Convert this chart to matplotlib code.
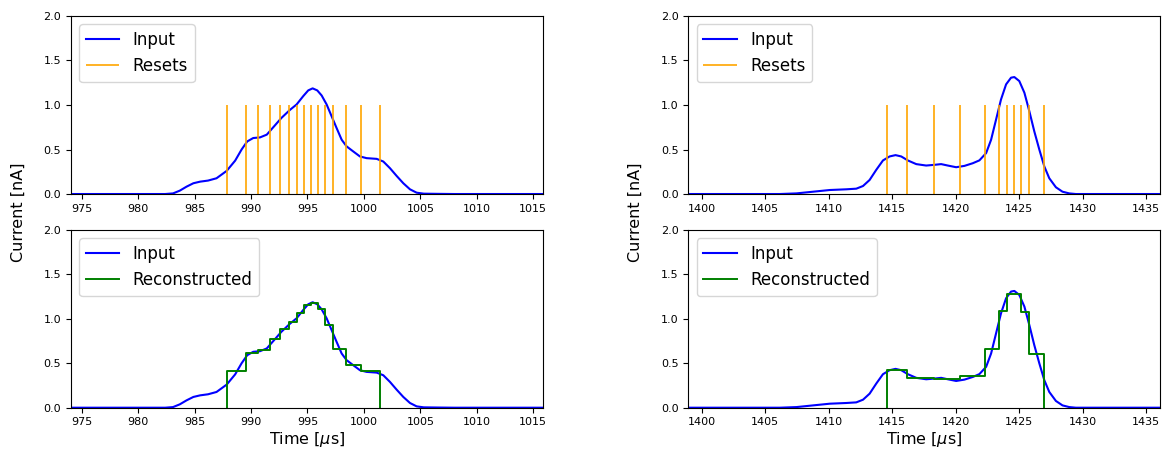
import numpy as np
import matplotlib
matplotlib.use("Agg")
import matplotlib.pyplot as plt

# -----------------------------
# Left event
# -----------------------------
left_t = [974.0, 982.4, 983.1, 983.7, 984.3, 984.9, 985.5, 986.2, 986.95, 987.85,
          988.6, 989.17, 989.67, 990.2, 990.8, 991.4, 992.1, 992.7, 993.45, 994.04,
          994.63, 995.07, 995.46, 995.87, 996.26, 996.7, 997.14, 997.58, 998.03,
          998.47, 999.06, 999.65, 1000.24, 1001.13, 1001.72, 1002.31, 1002.9,
          1003.49, 1004.08, 1004.67, 1005.3, 1006.5, 1008.0, 1016.0]
left_i = [0.0, 0.0, 0.007, 0.038, 0.083, 0.121, 0.139, 0.151, 0.177, 0.26,
          0.375, 0.5, 0.591, 0.629, 0.636, 0.667, 0.768, 0.855, 0.945, 1.006,
          1.1, 1.164, 1.187, 1.164, 1.107, 1.006, 0.874, 0.742, 0.61,
          0.535, 0.478, 0.422, 0.403, 0.395, 0.365, 0.29, 0.203,
          0.121, 0.053, 0.015, 0.004, 0.002, 0.0, 0.0]
left_resets = [987.84, 989.52, 990.62, 991.65, 992.56, 993.33, 994.07, 994.72,
               995.34, 995.93, 996.52, 997.26, 998.41, 999.74, 1001.39]
left_levels = [0.417, 0.619, 0.649, 0.769, 0.889, 0.968, 1.062, 1.152,
               1.182, 1.107, 0.934, 0.664, 0.48, 0.413]

# -----------------------------
# Right event
# -----------------------------
right_t = [1398.9, 1406.15, 1407.46, 1408.77, 1410.08, 1411.39, 1412.17, 1412.7,
           1413.22, 1413.74, 1414.27, 1414.79, 1415.26, 1415.71, 1416.23, 1416.89,
           1417.67, 1418.33, 1418.85, 1419.37, 1420.03, 1420.68, 1421.34, 1421.86,
           1422.39, 1422.78, 1423.17, 1423.56, 1423.96, 1424.35, 1424.61, 1425.0,
           1425.4, 1425.79, 1426.18, 1426.58, 1426.97, 1427.36, 1427.88, 1428.4,
           1428.93, 1429.45, 1436.1]
right_i = [0.0, 0.0, 0.007, 0.026, 0.045, 0.053, 0.06, 0.09,
           0.158, 0.271, 0.377, 0.422, 0.437, 0.422, 0.377, 0.336,
           0.32, 0.328, 0.336, 0.32, 0.301, 0.316, 0.346, 0.378,
           0.46, 0.61, 0.836, 1.062, 1.232, 1.307, 1.314, 1.269,
           1.138, 0.93, 0.704, 0.497, 0.309, 0.177, 0.076, 0.026,
           0.007, 0.0, 0.0]
right_resets = [1414.56, 1416.15, 1418.25, 1420.37, 1422.33, 1423.41, 1424.06,
                1424.58, 1425.11, 1425.76, 1426.92]
right_levels = [0.424, 0.334, 0.319, 0.353, 0.66, 1.088, 1.28, 1.28, 1.077, 0.608]

XLIMS = [(974.06, 1015.86), (1398.95, 1436.1)]

# -----------------------------
# Plot
# -----------------------------
fig = plt.figure(figsize=(11.67, 4.53), dpi=100)

cols = [
    (left_t, left_i, left_resets, left_levels, 0.0608),
    (right_t, right_i, right_resets, right_levels, 0.5898),
]
W = 0.4045
for k, (t, cur, resets, levels, x0) in enumerate(cols):
    ax_top = fig.add_axes([x0, 0.5717, W, 0.3930])
    ax_bot = fig.add_axes([x0, 0.1000, W, 0.3923])

    ax_top.plot(t, cur, color="blue", linewidth=1.5, label="Input")
    ax_top.vlines(resets, 0, 1, color="orange", linewidth=1.2, label="Resets")

    ax_bot.plot(t, cur, color="blue", linewidth=1.5, label="Input")
    ax_bot.step([resets[0]] + resets, [0] + levels + [0], where="post",
                color="green", linewidth=1.4, label="Reconstructed")

    for ax in (ax_top, ax_bot):
        ax.set_xlim(*XLIMS[k])
        ax.set_ylim(0, 2)
        ax.set_yticks([0.0, 0.5, 1.0, 1.5, 2.0])
        ax.tick_params(labelsize=8)
        ax.legend(loc="upper left", fontsize=12)

    ax_bot.set_xlabel(r"Time [$\mu$s]", fontsize=11.5, labelpad=2)
    fig.text(x0 - 0.045, 0.532, "Current [nA]", rotation=90, fontsize=11.5,
             ha="center", va="center")

plt.savefig("out.png", dpi=100)
